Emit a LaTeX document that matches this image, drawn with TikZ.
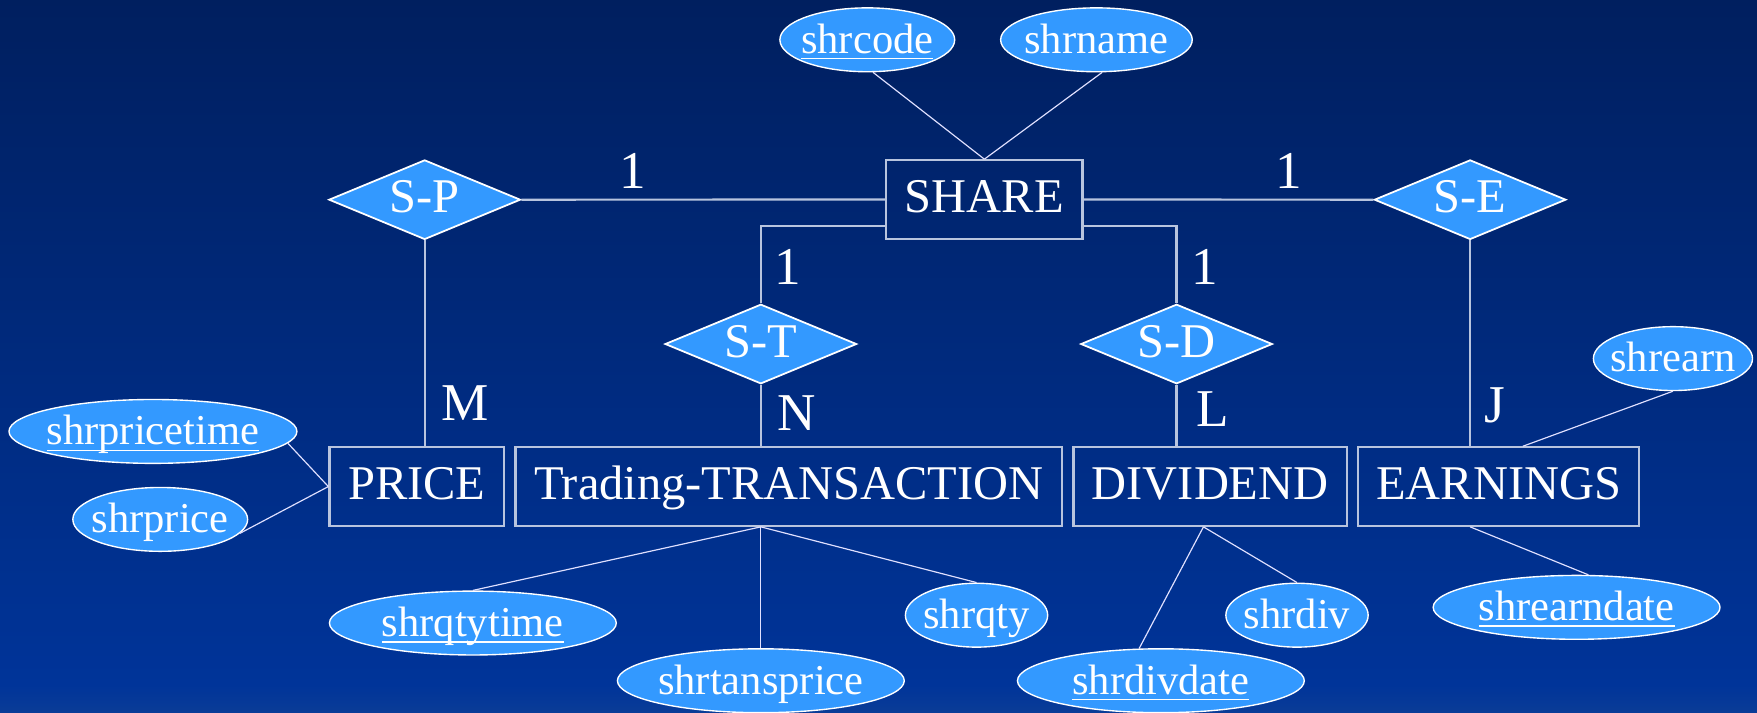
\documentclass[tikz,border=0pt]{standalone}
\usepackage{fontspec}
\setmainfont{Liberation Serif}
\usetikzlibrary{shapes.geometric,calc}
\definecolor{topc}{HTML}{001F5F}
\definecolor{botc}{HTML}{003499}
\definecolor{bandc}{HTML}{0A3C97}
\definecolor{attrfill}{HTML}{3399FF}
\definecolor{edgec}{HTML}{B8C4DE}
\newcommand\keyattr[1]{\underline{\smash{#1}}}
\begin{document}
\begin{tikzpicture}[x=0.1mm,y=-0.1mm,
 entity/.style={draw=edgec, line width=0.55pt, minimum height=0.70cm, inner sep=0pt, text=white,
   font=\fontsize{12.3}{14}\selectfont, text height=0.66em, text depth=0pt},
 rel/.style={diamond, aspect=2.44, draw=white, line width=0.45pt, fill=attrfill, minimum width=1.71cm,
   minimum height=0.71cm, inner sep=0pt, text=white, font=\fontsize{12.3}{14}\selectfont, text height=0.66em, text depth=0pt},
 attr/.style={ellipse, draw=white, line width=0.35pt, fill=attrfill, inner ysep=0pt, inner xsep=-0.3em, minimum height=0.57cm,
   text=white, font=\fontsize{10.8}{13}\selectfont, text height=0.68em, text depth=0pt},
 card/.style={text=white, font=\fontsize{13.5}{16}\selectfont, inner sep=0pt, anchor=base},
 relline/.style={draw=edgec, line width=0.55pt},
 attrline/.style={draw=white!88!blue, line width=0.3pt}]

\useasboundingbox (0,0) rectangle (1568,635.4);
\fill[top color=topc, bottom color=botc] (0,0) rectangle (1568,611);
\fill[top color=botc, bottom color=bandc] (0,611) rectangle (1568,635.4);

% relationships
\node[rel] (sp) at (379,178.2) {S-P};
\node[rel] (se) at (1312,178.2) {S-E};
\node[rel] (st) at (679,307) {S-T};
\node[rel] (sd) at (1050,307) {S-D};

% entities
\node[entity, minimum width=1.75cm] (share) at (878.5,178) {SHARE};
\node[entity, minimum width=1.56cm] (pr) at (372,434.2) {PRICE};
\node[entity, minimum width=4.88cm] (tt) at (704,434.2) {Trading-TRANSACTION};
\node[entity, minimum width=2.44cm] (dv) at (1080,434.2) {DIVIDEND};
\node[entity, minimum width=2.51cm] (ea) at (1337.5,434.2) {EARNINGS};

% attributes
\node[attr, minimum width=1.56cm] (shrcode) at (774,35.5) {\keyattr{shrcode}};
\node[attr, minimum width=1.71cm] (shrname) at (978.5,35.5) {shrname};
\node[attr, minimum width=2.57cm] (shrpricetime) at (136.5,385) {\keyattr{shrpricetime}};
\node[attr, minimum width=1.56cm] (shrprice) at (143,463.5) {shrprice};
\node[attr, minimum width=1.42cm] (shrearn) at (1493,320) {shrearn};
\node[attr, minimum width=2.56cm] (shrearndate) at (1407,542) {\keyattr{shrearndate}};
\node[attr, minimum width=2.56cm] (shrqtytime) at (422,556) {\keyattr{shrqtytime}};
\node[attr, minimum width=2.56cm] (shrtansprice) at (679,607.5) {shrtansprice};
\node[attr, minimum width=1.27cm] (shrqty) at (871.5,549) {shrqty};
\node[attr, minimum width=1.27cm] (shrdiv) at (1157.5,549) {shrdiv};
\node[attr, minimum width=2.56cm] (shrdivdate) at (1036,607.5) {\keyattr{shrdivdate}};

% relationship connectors
\draw[relline] (sp.east) -- (share.west);
\draw[relline] (share.east) -- (se.west);
\draw[relline] ([yshift=0.12cm]share.south west) -| (st.north);
\draw[relline] ([yshift=0.12cm]share.south east) -| (sd.north);
\draw[relline] (sp.south) -- (sp.south |- pr.north);
\draw[relline] (se.south) -- (se.south |- ea.north);
\draw[relline] (st.south) -- (st.south |- tt.north);
\draw[relline] (sd.south) -- (sd.south |- dv.north);

% cardinalities
\node[card] (c1) at (565,168) {1};
\node[card] (c2) at (1150,168) {1};
\node[card] (c3) at (703,254) {1};
\node[card] (c4) at (1075,254) {1};
\node[card] (cm) at (415,375) {M};
\node[card] (cn) at (711,384) {N};
\node[card] (cl) at (1082,381) {L};
\node[card] (cj) at (1334,377) {J};

% attribute connectors
\draw[attrline] (shrcode.-80) -- (share.north);
\draw[attrline] (shrname.-80) -- (share.north);
\draw[attrline] (shrpricetime.-5) -- (pr.west);
\draw[attrline] (shrprice.-10) -- (pr.west);
\coordinate (earntop) at ([xshift=1.48cm]ea.north west);
\draw[attrline] (shrearn.south) -- (earntop);
\coordinate (earnbot) at (se.south |- ea.south);
\draw[attrline] (earnbot) -- (shrearndate.70);
\coordinate (ttb) at (st.south |- tt.south);
\draw[attrline] (ttb) -- (shrqtytime.north);
\draw[attrline] (ttb) -- (shrtansprice.north);
\draw[attrline] (ttb) -- (shrqty.north);
\coordinate (dvb) at ([xshift=-0.06cm]dv.south);
\draw[attrline] (dvb) -- (shrdiv.north);
\draw[attrline] (dvb) -- (shrdivdate.124);
\end{tikzpicture}
\end{document}
